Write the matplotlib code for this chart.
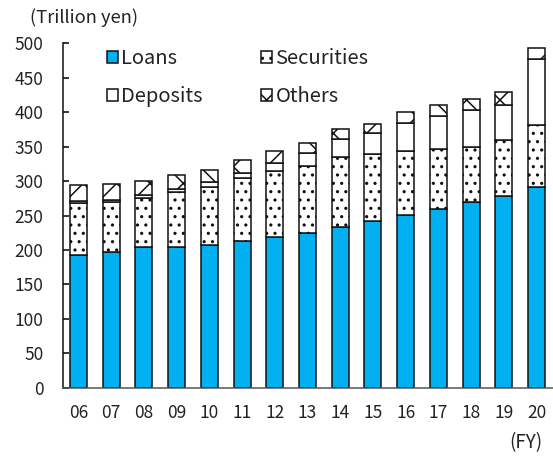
import matplotlib
matplotlib.use("Agg")
import matplotlib.pyplot as plt
import numpy as np

plt.rcParams["font.family"] = ["Noto Sans CJK JP", "DejaVu Sans"]
plt.rcParams["hatch.linewidth"] = 1.1

years = ["06", "07", "08", "09", "10", "11", "12", "13", "14", "15", "16", "17", "18", "19", "20"]
loans = [193, 197, 204, 204, 207, 213, 219, 225, 233, 242, 251, 260, 269, 278, 292]
securities = [75, 72, 71, 80, 85, 91, 95, 97, 102, 98, 93, 87, 81, 81, 90]
deposits = [3.3, 3.8, 4.3, 4.5, 7.2, 8, 12.2, 19.3, 26.1, 29.6, 40.6, 46.9, 52.8, 51.8, 95.4]
others = [22.3, 22.7, 20.7, 20.2, 17, 18.5, 17.8, 14.5, 14.1, 13.5, 15.4, 16.4, 16, 18.5, 15.9]

BLUE = "#00B0F0"
TEXT = "#222222"

fig = plt.figure(figsize=(5.53, 4.59), dpi=100)
ax = fig.add_axes([0.1134, 0.1553, 0.8866, 0.7504])

x = np.arange(len(years))
w = 0.52
base = np.zeros(len(years))
bars = {}
series = [
    ("Loans", loans, BLUE, None),
    ("Securities", securities, "white", ".."),
    ("Deposits", deposits, "white", None),
    ("Others", others, "white", "x"),
]
for name, vals, color, hatch in series:
    vals = np.array(vals, dtype=float)
    bars[name] = ax.bar(x, vals, w, bottom=base, color=color, edgecolor="#111111",
                        linewidth=1.1, hatch=hatch, label=name, zorder=2)
    base += vals

ax.set_xlim(-0.48, 14.5)
ax.set_ylim(0, 500)
ax.set_yticks(range(0, 501, 50))
ax.set_xticks(x)
ax.set_xticklabels(years)

for s in ["top", "right"]:
    ax.spines[s].set_visible(False)
ax.spines["left"].set_color("#111111")
ax.spines["left"].set_linewidth(1.1)
ax.spines["bottom"].set_color("#555555")
ax.spines["bottom"].set_linewidth(1.1)

ax.tick_params(axis="y", direction="in", length=4, width=1.1, pad=14,
               labelsize=12.5, labelcolor=TEXT)
ax.tick_params(axis="x", length=0, pad=12, labelsize=12.5, labelcolor=TEXT)

# legend fills column-wise, so list entries as Loans/Deposits then Securities/Others
order = ["Loans", "Deposits", "Securities", "Others"]
leg = ax.legend([bars[n] for n in order], order, ncol=2, frameon=False,
                loc="upper left", bbox_to_anchor=(0.091, 0.985), borderaxespad=0,
                borderpad=0, handlelength=0.55, handleheight=0.55,
                handletextpad=0.15, labelspacing=0.82, columnspacing=2.9,
                fontsize=14.5)
for t in leg.get_texts():
    t.set_color(TEXT)

fig.text(30 / 553, 1 - 18 / 459, "(Trillion yen)", fontsize=13.2, color=TEXT,
         ha="left", va="center")
fig.text(542 / 553, 1 - 443 / 459, "(FY)", fontsize=13.5, color=TEXT,
         ha="right", va="center")

fig.savefig("out.png", dpi=100)
